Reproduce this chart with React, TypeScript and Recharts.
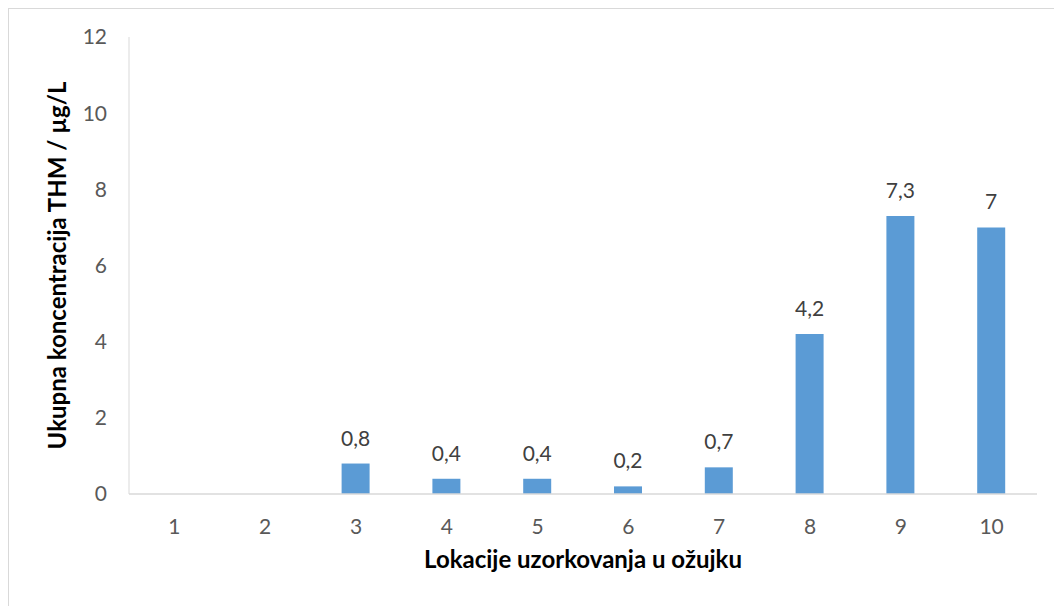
import { BarChart, Bar, XAxis, YAxis, LabelList, Label } from 'recharts';

// lokacije 1-10, ukupni THM u ožujku (µg/L); 1 i 2 bez podatka
const locations = ['1', '2', '3', '4', '5', '6', '7', '8', '9', '10'];
const thmValues: (number | null)[] = [null, null, 0.8, 0.4, 0.4, 0.2, 0.7, 4.2, 7.3, 7];
const yTicks = [0, 2, 4, 6, 8, 10, 12];

const data = locations.map((loc, i) => ({ loc, thm: thmValues[i] }));

const FONT = 'Lato, "Open Sans", sans-serif';
const AXIS_COLOR = '#d9d9d9';
const BAR_COLOR = '#5b9bd5';

const formatValue = (v: any) => (v == null ? null : String(v).replace('.', ','));

const YTitle = ({ viewBox }: any) => {
    const cx = viewBox.x + 57;
    const cy = viewBox.y + viewBox.height / 2;
    return (
        <text
            x={cx} y={cy}
            transform={`rotate(-90, ${cx}, ${cy})`}
            textAnchor="middle"
            fontFamily={FONT} fontSize={24} fontWeight="bold" fill="#000"
        >
            Ukupna koncentracija THM / µg/L
        </text>
    );
};

const XTitle = ({ viewBox }: any) => (
    <text
        x={viewBox.x + viewBox.width / 2} y={viewBox.y + 74}
        textAnchor="middle"
        fontFamily={FONT} fontSize={24} fontWeight="bold" fill="#000"
    >
        Lokacije uzorkovanja u ožujku
    </text>
);

export default function App() {
    return (
        <div style={{ width: 1054, height: 598, borderTop: `1px solid ${AXIS_COLOR}`, borderLeft: `1px solid ${AXIS_COLOR}`, background: '#fff', fontFamily: FONT }}>
            <BarChart width={1053} height={597} data={data} margin={{ top: 28, right: 25, bottom: 32, left: 0 }}>
                <XAxis
                    dataKey="loc" height={80}
                    tickLine={false} tickSize={0} tickMargin={25}
                    axisLine={{ stroke: AXIS_COLOR, strokeWidth: 1.5 }}
                    tick={{ fill: '#595959', fontSize: 21, fontFamily: FONT }}
                >
                    <Label content={<XTitle />} />
                </XAxis>
                <YAxis
                    width={120} domain={[0, 12]} ticks={yTicks} interval={0}
                    tickLine={false} tickSize={0} tickMargin={22}
                    axisLine={{ stroke: AXIS_COLOR, strokeWidth: 1 }}
                    tick={{ fill: '#595959', fontSize: 21, fontFamily: FONT }}
                >
                    <Label content={<YTitle />} />
                </YAxis>
                <Bar dataKey="thm" fill={BAR_COLOR} barSize={28} isAnimationActive={false}>
                    <LabelList
                        dataKey="thm" position="top" offset={18}
                        formatter={formatValue}
                        fill="#404040" fontSize={21} fontFamily={FONT}
                    />
                </Bar>
            </BarChart>
        </div>
    );
}
